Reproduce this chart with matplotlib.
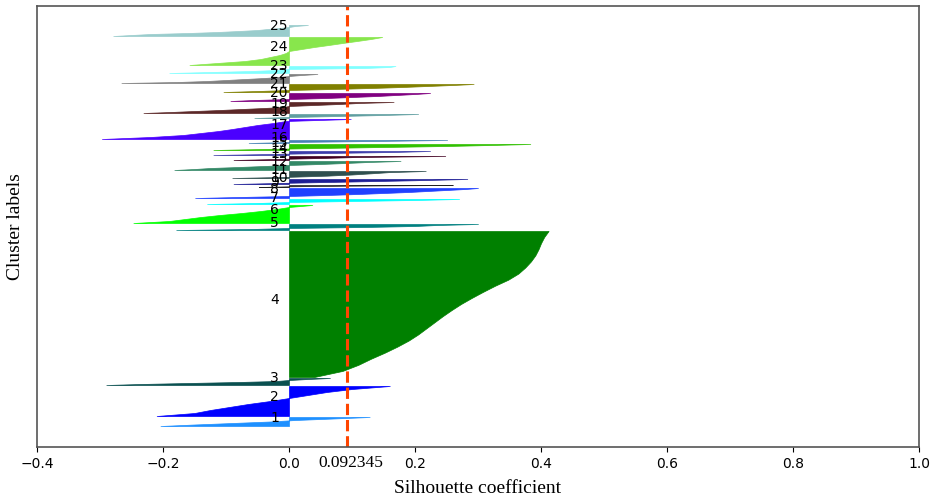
import numpy as np
import matplotlib.pyplot as plt

# silhouette values per cluster, sorted ascending (bottom of each band -> top)
sil_1 = [-0.204, -0.15, -0.09, -0.03, 0.01, 0.07, 0.128]
sil_2 = [-0.21, -0.15, -0.125, -0.095, -0.065, -0.03, 0.0, 0.03, 0.06, 0.10, 0.16]
sil_3 = [-0.29, -0.236, -0.16, -0.08, -0.02, 0.0, 0.03, 0.065]
sil_4 = [0.04, 0.085, 0.11, 0.13, 0.152, 0.172, 0.19, 0.205, 0.218, 0.231,
         0.244, 0.258, 0.273, 0.29, 0.308, 0.327, 0.348, 0.364, 0.375, 0.384,
         0.391, 0.396, 0.40, 0.405, 0.412]
sil_5 = [-0.179, -0.06, 0.0, 0.12, 0.2, 0.235, 0.30]
sil_6 = [-0.247, -0.19, -0.165, -0.14, -0.11, -0.075, -0.045, -0.02, 0.0, 0.037]
sil_7 = [-0.13, -0.05, 0.0, 0.1, 0.2, 0.27]
sil_8 = [-0.149, -0.08, 0.0, 0.06, 0.11, 0.15, 0.19, 0.22, 0.25, 0.28, 0.30]
sil_9 = [-0.048, 0.0, 0.093, 0.26]
sil_10 = [-0.088, 0.0, 0.1, 0.2, 0.283]
sil_11 = [-0.09, 0.0, 0.06, 0.1, 0.13, 0.158, 0.217]
sil_12 = [-0.182, -0.15, -0.125, -0.08, -0.04, 0.0, 0.05, 0.09, 0.126, 0.177]
sil_13 = [-0.088, -0.02, 0.05, 0.109, 0.248]
sil_14 = [-0.12, -0.03, 0.06, 0.165, 0.224]
sil_15 = [-0.12, -0.04, 0.05, 0.15, 0.25, 0.32, 0.383]
sil_16 = [-0.064, 0.0, 0.135, 0.251]
sil_17 = [-0.297, -0.22, -0.168, -0.14, -0.112, -0.09, -0.07, -0.05, -0.025, -0.005, 0.098]
sil_18 = [-0.055, 0.0, 0.08, 0.15, 0.205]
sil_19 = [-0.231, -0.188, -0.15, -0.11, -0.075, -0.04, -0.01, 0.0, 0.04, 0.08, 0.11, 0.166]
sil_20 = [-0.093, -0.056, 0.0, 0.06, 0.1, 0.14, 0.17, 0.2, 0.224]
sil_21 = [-0.104, -0.05, 0.0, 0.07, 0.13, 0.18, 0.22, 0.26, 0.293]
sil_22 = [-0.266, -0.177, -0.13, -0.1, -0.07, -0.04, -0.015, 0.0, 0.02, 0.045]
sil_23 = [-0.19, -0.125, -0.06, -0.02, 0.0, 0.12, 0.16, 0.169]
sil_24 = [-0.158, -0.114, -0.07, -0.045, -0.03, -0.015, -0.005, 0.0, 0.02, 0.04,
          0.063, 0.085, 0.108, 0.13, 0.148]
sil_25 = [-0.279, -0.25, -0.22, -0.16, -0.114, -0.08, -0.05, -0.034, -0.015, 0.0, 0.01, 0.03]

cluster_values = [sil_1, sil_2, sil_3, sil_4, sil_5, sil_6, sil_7, sil_8, sil_9, sil_10,
                  sil_11, sil_12, sil_13, sil_14, sil_15, sil_16, sil_17, sil_18, sil_19,
                  sil_20, sil_21, sil_22, sil_23, sil_24, sil_25]
cluster_sizes = [9, 30, 7, 146, 6, 18, 5, 10, 2, 5, 7, 9, 4, 4, 6, 3, 20, 4, 11, 8, 8, 9, 7, 28, 11]
cluster_labels = [str(i) for i in range(1, 26)]
colors = ['#1e90ff', '#0000ff', '#0a5050', '#008000', '#008080', '#00ff00', '#00ffff',
          '#2040ff', '#222222', '#1e1e96', '#2f4f4f', '#338866', '#400020', '#3c3caa',
          '#30c000', '#4682b4', '#4b00ff', '#5f9ea0', '#5c2828', '#800080', '#808000',
          '#808080', '#80ffff', '#88e64c', '#99cccc']
silhouette_avg = 0.092345

fig = plt.figure(figsize=(9.31, 4.98), dpi=100)
ax = fig.add_axes([37 / 931, 51 / 498, 882 / 931, 441 / 498])

y_lower = 21
for vals, size, label, c in zip(cluster_values, cluster_sizes, cluster_labels, colors):
    y_upper = y_lower + size
    y = np.linspace(y_lower, y_upper, len(vals))
    ax.fill_betweenx(y, 0, vals, facecolor=c, edgecolor=c, linewidth=0.5)
    ax.text(-0.03, y_lower + 0.5 * size, label, fontsize=10)
    y_lower = y_upper + 1

ax.axvline(x=silhouette_avg, color='orangered', linestyle='--', linewidth=2.2)
ax.text(silhouette_avg + 0.005, -0.036, '%.6f' % silhouette_avg, transform=ax.get_xaxis_transform(),
        ha='center', va='center', fontsize=12.5, family='Liberation Serif')

ax.set_xlim(-0.4, 1.0)
ax.set_ylim(0, 441)
ax.set_xticks([-0.4, -0.2, 0.0, 0.2, 0.4, 0.6, 0.8, 1.0])
ax.set_yticks([])
ax.tick_params(axis='x', labelsize=10)
for s in ax.spines.values():
    s.set_color('#555555')
    s.set_linewidth(1.2)

ax.set_xlabel('Silhouette coefficient', fontsize=14, family='Liberation Serif', labelpad=7)
ax.set_ylabel('Cluster labels', fontsize=14, family='Liberation Serif')
ax.yaxis.set_label_coords(-0.015, 0.5)

fig.savefig('out.png', dpi=100)
